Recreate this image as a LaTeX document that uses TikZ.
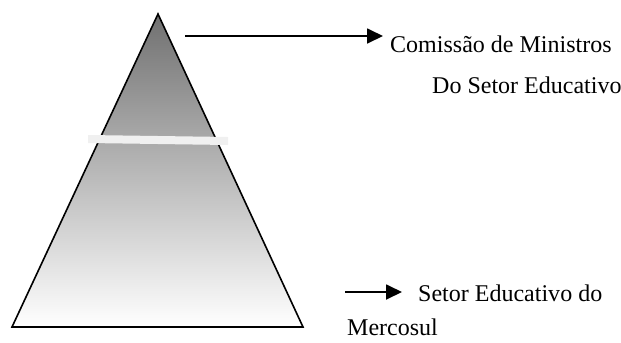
\documentclass[tikz,border=0pt]{standalone}
\usepackage{fontspec}
\setmainfont{Liberation Serif}
\usetikzlibrary{arrows.meta}
\begin{document}
\begin{tikzpicture}[x=1bp,y=-1bp,
  lbl/.style={anchor=base west,inner sep=0pt,font=\fontsize{24.1}{29}\selectfont},
  conn/.style={line width=1.8bp,-{Triangle[length=16bp,width=15bp]}}]
\useasboundingbox (0,0) rectangle (621,342);
\coordinate (apex) at (158,14);
\coordinate (bl) at (12,327);
\coordinate (br) at (303,327);
\shade[top color=black!56,bottom color=white] (apex) -- (br) -- (bl) -- cycle;
\draw[line width=1.6bp,line join=miter] (apex) -- (br) -- (bl) -- cycle;
\fill[black!6] (88,135) -- (228,137) -- (228,145) -- (88,143) -- cycle;
\coordinate (a1s) at (185,36);
\coordinate (a1e) at (383,36);
\coordinate (a2s) at (345,292);
\coordinate (a2e) at (402,292);
\draw[conn] (a1s) -- (a1e);
\draw[conn] (a2s) -- (a2e);
\node[lbl] (t1) at (390,52) {Comissão de Ministros};
\node[lbl] (t2) at (432,93) {Do Setor Educativo};
\node[lbl] (t3) at (418,301) {Setor Educativo do};
\node[lbl] (t4) at (347,335) {Mercosul};
\end{tikzpicture}
\end{document}
